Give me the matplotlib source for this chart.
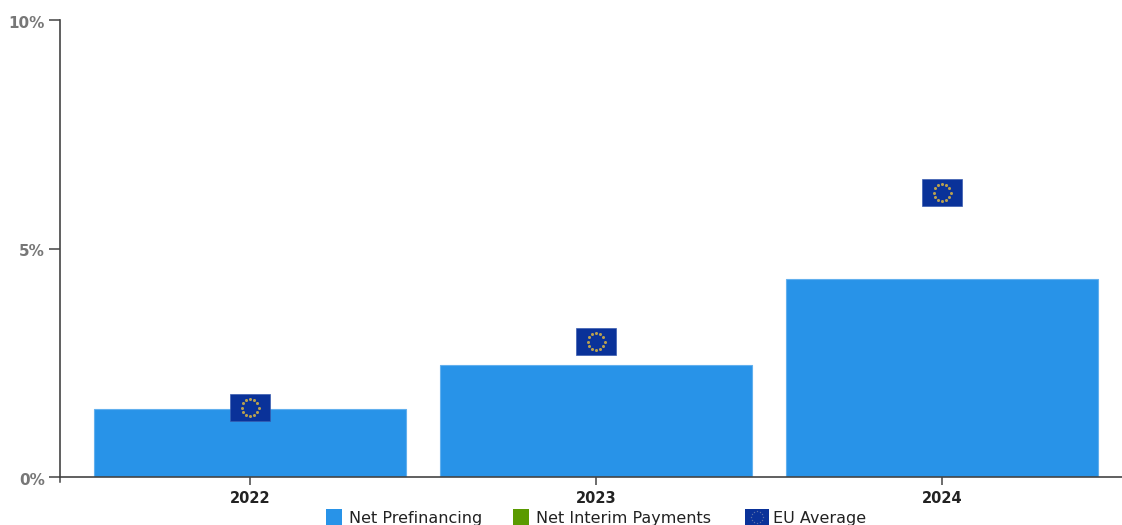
import numpy as np
import matplotlib
matplotlib.use("Agg")
import matplotlib.pyplot as plt
from matplotlib.patches import Rectangle
from matplotlib.transforms import Affine2D, ScaledTranslation

years = ["2022", "2023", "2024"]
net_prefinancing = [1.49, 2.45, 4.33]
eu_average = [1.52, 2.96, 6.22]
y_ticks = [0, 5, 10]
y_labels = ["0%", "5%", "10%"]

W, H = 1122, 525
BLUE = "#2893E8"
GREEN = "#5A9A00"
FLAG = "#0A3299"
STAR = "#B8A050"
AXIS = "#444444"

plt.rcParams["font.family"] = "DejaVu Sans"

fig = plt.figure(figsize=(W / 100, H / 100), dpi=100)
ax = fig.add_axes([60 / W, 1 - 477 / H, (W - 60) / W, (477 - 20) / H])
x = np.arange(len(years))
ax.set_xlim((60 - 250) / 346, (W - 250) / 346)
ax.set_ylim(0, 10)

ax.bar(x, net_prefinancing, width=312 / 346, color=BLUE, edgecolor="#62B0EE", linewidth=0.8, zorder=2)


def draw_flag(trans, target, w=40.0, h=27.0, star_r=8.5, star_size=2.2):
    target.add_patch(Rectangle((-w / 2, -h / 2), w, h, transform=trans, facecolor=FLAG,
                               edgecolor="#3A5DB0", linewidth=0.5, zorder=5, clip_on=False))
    for a in np.arange(12) * np.pi / 6:
        target.plot([star_r * np.cos(a)], [star_r * np.sin(a)], marker="o", ms=star_size, mew=0,
                    color=STAR, transform=trans, zorder=6, clip_on=False)


for xi, yi in zip(x, eu_average):
    px, py = ax.transData.transform((xi, yi))
    draw_flag(Affine2D().translate(px, py), ax)

ax.set_xlim((60 - 250) / 346, (W - 250) / 346)
ax.set_ylim(0, 10)

for s in ("top", "right"):
    ax.spines[s].set_visible(False)
for s in ("left", "bottom"):
    ax.spines[s].set_color(AXIS)
    ax.spines[s].set_linewidth(1.2)

ax.set_xticks(x)
ax.set_xticklabels(years, fontsize=10.5, color="#222222", fontweight="bold")
ax.set_yticks(y_ticks)
ax.set_yticklabels(y_labels, fontsize=11, color="#777777", fontweight="bold")
ax.tick_params(axis="x", length=6, width=1.1, color=AXIS, pad=4, direction="out")
ax.tick_params(axis="y", length=8, width=1.1, color=AXIS, pad=3, direction="out")
ax.set_axisbelow(False)

# nudge the y labels down by 2 px
shift = ScaledTranslation(0, -2 / 100, fig.dpi_scale_trans)
for lab in ax.get_yticklabels():
    lab.set_transform(lab.get_transform() + shift)

fig_tr = fig.transFigure


def fx(p):
    return p / W


def fy(p):
    return 1 - p / H


fig.add_artist(plt.Line2D([fx(60), fx(60)], [fy(477), fy(482)], color=AXIS, lw=1.1))

# legend
legend_items = ["Net Prefinancing", "Net Interim Payments", "EU Average"]
legend_swatches = [BLUE, GREEN, FLAG]
legend_box_x = [326, 513, 745]
legend_text_x = [349, 536, 773]
legend_box_w = [16, 16, 24]
for lab, col, bx, tx, bw in zip(legend_items, legend_swatches, legend_box_x, legend_text_x, legend_box_w):
    fig.add_artist(Rectangle((fx(bx), fy(525)), bw / W, 16 / H, transform=fig_tr, facecolor=col, edgecolor="none"))
    fig.text(fx(tx), fy(522.5), lab, fontsize=11.5, color="#222222", ha="left", va="baseline")

# small ring on the EU legend swatch
for a in np.arange(12) * np.pi / 6:
    fig.add_artist(plt.Line2D([fx(757 + 6 * np.cos(a))], [fy(517 + 6 * np.sin(a))], marker="o", ms=1,
                              mew=0, color="#5A6FA8", transform=fig_tr))

fig.savefig("out.png", dpi=100)
